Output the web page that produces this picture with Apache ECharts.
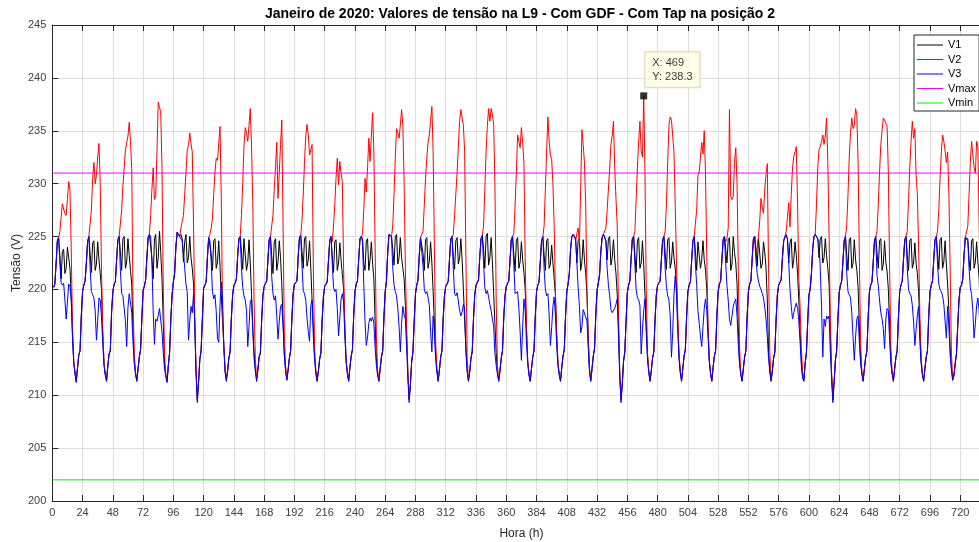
<!DOCTYPE html>
<html><head><meta charset="utf-8">
<script src="https://cdn.jsdelivr.net/npm/echarts@6/dist/echarts.min.js"></script>
<style>html,body{margin:0;padding:0;background:#fff}#c{width:979px;height:542px}</style>
</head><body><div id="c"></div>
<script>
// ---- DATA (hourly, January 2020, one row per day, hours 1..24) ----
const v1Days = [
[220.2,220.5,222.4,224.6,224.9, 223.2,221.0,223.6,223.8,221.5,222.0,224.0,223.0,222.0,219.5,215.8, 213.1,212.1,211.3,212.6,213.8,214.2,217.5,219.8],
[220.4,220.8,222.5,224.5,225.0, 223.4,221.6,224.4,224.6,221.8,222.4,224.5,222.8,221.5,220.0,216.0, 213.0,212.0,211.4,212.7,213.9,214.2,217.8,219.8],
[220.5,220.7,222.8,224.7,225.0, 223.6,221.8,224.8,225.0,222.0,222.6,224.8,223.2,221.8,220.5,216.2, 213.2,212.1,211.4,212.5,213.6,214.3,217.2,219.9],
[220.3,220.9,223.0,224.9,225.2, 225.3,223.0,221.0,224.8,225.2,222.0,223.0,225.5,223.5,221.0,217.0, 213.0,211.9,211.3,212.8,214.0,217.2,219.5,220.7],
[221.5,224.0,225.4,225.2,225.0, 225.2,224.8,222.6,224.5,225.2,222.5,223.0,225.0,223.0,222.0,220.5, 216.8,212.2,209.6,211.3,213.4,214.2,217.2,220.1],
[220.4,220.7,223.0,224.9,224.8, 223.4,221.8,224.6,224.8,222.0,222.6,224.6,222.2,219.5,217.0,214.8, 212.4,211.5,212.3,213.5,214.1,217.3,219.5,220.4],
[220.6,221.0,223.2,224.8,225.0, 223.6,221.9,224.8,224.9,221.8,222.5,224.7,222.5,219.5,216.5,214.0, 212.5,211.5,212.4,213.6,214.0,217.0,219.4,220.3],
[220.4,220.8,222.8,224.7,225.0, 223.2,221.5,224.5,224.8,221.8,222.6,224.6,223.0,220.5,217.0,213.9, 212.4,211.5,212.4,213.5,214.2,217.3,219.6,220.5],
[220.5,220.8,223.1,224.9,225.1, 223.6,222.0,224.8,225.0,222.2,222.8,224.6,222.0,219.0,216.5,213.6, 212.2,211.4,212.3,213.4,214.0,217.1,219.3,220.3],
[220.4,220.7,222.7,224.6,225.0, 223.2,221.6,224.5,224.7,221.8,222.5,224.4,222.8,221.4,220.0,216.3, 213.3,212.1,211.4,212.6,213.7,214.3,217.5,219.8],
[220.5,220.8,222.9,224.8,225.0, 224.8,222.5,221.8,224.6,224.8,221.8,222.8,224.5,222.5,221.0,217.0, 213.5,212.1,211.4,212.5,213.6,214.2,217.4,219.8],
[220.8,223.5,225.2,225.3,225.0, 223.8,222.3,225.0,225.2,222.4,223.0,224.9,223.0,222.0,221.0,218.5, 215.5,212.0,209.6,211.1,213.2,214.1,217.0,219.6],
[220.4,220.9,223.2,224.9,225.0, 223.4,221.8,224.7,224.9,222.0,222.7,224.5,222.5,219.8,216.8,214.0, 212.3,211.4,212.4,213.6,214.2,217.3,219.4,220.3],
[220.5,220.8,222.9,224.8,225.0, 223.1,221.9,224.6,224.9,222.4,223.0,224.8,222.8,220.0,217.0,214.5, 212.4,211.4,212.2,213.5,214.1,217.2,219.5,220.4],
[220.5,220.9,223.1,224.8,225.1, 223.8,222.0,225.0,225.3,222.3,223.0,224.9,222.6,219.6,216.8,214.0, 212.2,211.4,212.3,213.5,214.2,217.3,219.4,220.3],
[220.4,220.8,222.8,224.7,225.0, 223.4,221.7,224.6,224.9,222.0,222.6,224.5,222.8,221.6,220.0,216.4, 213.2,212.0,211.4,212.5,213.6,214.2,217.4,219.8],
[220.4,220.7,222.7,224.6,225.0, 223.3,221.8,224.6,224.8,222.0,222.4,224.2,222.5,221.0,219.5,215.8, 213.0,212.0,211.4,212.6,213.7,214.3,217.5,219.8],
[220.5,221.5,223.8,225.0,225.2, 225.1,224.8,222.5,224.6,224.8,221.8,222.6,224.7,222.8,221.5,219.5, 215.8,212.5,211.4,212.5,213.7,214.4,217.6,219.9],
[220.6,221.4,223.6,224.9,225.2, 225.1,224.6,222.8,224.8,225.0,222.3,223.0,224.7,222.8,221.5,219.5, 216.5,212.0,209.6,211.1,213.2,214.1,217.0,219.7],
[220.4,220.8,222.9,224.8,225.0, 223.3,221.6,224.6,224.9,222.0,222.5,224.6,222.3,219.5,216.5,213.8, 212.3,211.4,212.3,213.5,214.1,217.2,219.5,220.4],
[220.4,220.8,222.8,224.7,225.0, 223.5,221.9,224.7,224.9,222.0,222.6,224.5,223.0,222.0,220.5,216.8, 213.6,212.2,211.4,212.5,213.7,214.3,217.4,219.8],
[220.4,220.7,222.7,224.6,225.0, 223.6,221.8,224.5,224.6,222.0,222.8,224.6,222.8,221.8,220.0,216.5, 213.3,212.1,211.4,212.6,213.7,214.2,217.4,219.8],
[220.5,220.8,222.8,224.7,225.0, 223.8,222.5,224.7,224.9,221.8,222.4,225.0,223.5,222.5,220.5,216.5, 213.2,212.0,211.4,212.5,213.6,214.2,217.4,219.8],
[220.5,220.8,222.9,224.8,225.0, 223.8,222.2,224.8,224.9,222.0,222.4,224.5,223.5,222.0,219.0,214.2, 212.3,211.4,212.3,213.5,214.1,217.2,219.5,220.4],
[220.4,220.9,223.0,224.6,225.0, 225.2,224.8,222.5,224.4,224.8,222.0,222.8,224.5,223.2,221.5,219.0, 216.0,213.2,211.8,211.4,213.0,214.0,216.8,219.5],
[220.0,221.5,223.8,225.0,225.2, 225.1,224.8,223.0,224.8,225.0,222.5,223.0,224.8,223.2,222.0,220.5, 216.0,212.0,209.6,211.3,213.3,214.2,217.2,219.7],
[220.4,220.8,222.7,224.6,225.0, 223.3,221.8,224.7,224.9,222.0,222.5,224.7,222.8,221.8,220.2,216.5, 213.2,212.1,211.4,212.5,213.6,214.2,217.4,219.8],
[220.4,220.7,222.6,224.6,225.0, 223.5,222.0,224.6,224.8,221.8,222.4,224.6,222.6,221.7,220.0,216.6, 213.2,212.1,211.4,212.5,213.6,214.2,217.4,219.8],
[220.4,220.8,222.8,224.7,225.0, 223.3,221.8,224.6,224.8,222.0,222.5,224.4,222.5,221.5,219.8,216.3, 213.2,212.0,211.4,212.5,213.6,214.2,217.4,219.8],
[220.4,220.8,222.8,224.7,225.0, 223.5,221.9,224.7,224.9,222.0,222.6,224.6,222.4,220.5,218.0,214.5, 212.6,211.5,211.9,213.0,213.9,216.5,219.0,220.2],
[220.4,221.0,223.2,224.9,225.0, 224.8,222.8,221.8,224.6,224.8,222.0,222.6,224.5,222.6,221.0,217.0, 213.2,212.0,211.4,212.5,213.6,214.2,217.4,219.8]
];
const v2Days = [
[220.2,220.5,222.4,224.6,224.9, 225.5,226.8,228.1,227.6,227.2,227.0,228.5,230.2,229.4,224.0,216.5, 213.3,212.2,211.4,212.6,213.8,214.2,217.5,219.8],
[220.4,220.8,222.5,224.5,225.0, 225.0,227.5,230.5,232.0,230.0,230.8,232.5,233.8,230.0,222.0,216.0, 213.1,212.0,211.4,212.7,213.9,214.2,217.8,219.8],
[220.5,220.7,222.8,224.7,225.0, 225.0,227.5,229.8,231.5,233.2,233.9,234.5,235.8,234.0,231.4,219.0, 214.0,212.2,211.4,212.5,213.6,214.3,217.2,219.9],
[220.3,220.9,223.0,224.9,225.2, 227.0,229.5,231.5,228.5,228.8,233.0,237.7,237.2,236.8,231.4,220.0, 214.0,212.0,211.3,212.8,214.0,217.2,219.5,220.7],
[221.5,224.0,225.4,225.2,225.0, 225.8,226.4,227.0,229.0,231.0,233.2,233.6,234.8,233.8,233.0,226.0, 217.5,212.5,209.6,211.3,213.4,214.2,217.2,220.1],
[220.4,220.7,223.0,224.9,225.2, 225.8,226.7,229.0,231.1,232.4,232.2,232.1,235.4,228.6,218.0,214.5, 212.4,211.5,212.3,213.5,214.1,217.3,219.5,220.4],
[220.6,221.0,223.2,224.8,225.0, 227.0,230.0,233.5,235.3,234.8,234.0,235.5,237.1,233.5,228.0,219.0, 213.5,211.5,212.4,213.6,214.0,217.0,219.4,220.3],
[220.4,220.8,222.8,224.7,225.0, 225.0,227.0,229.5,231.5,233.9,228.6,231.0,233.7,236.0,226.0,216.0, 212.8,211.5,212.4,213.5,214.2,217.3,219.6,220.5],
[220.5,220.8,223.1,224.9,225.1, 226.5,229.0,232.0,234.5,235.6,234.6,232.7,233.2,233.7,222.0,214.5, 212.3,211.4,212.3,213.4,214.0,217.1,219.3,220.3],
[220.4,220.7,222.7,224.6,225.0, 224.5,226.0,228.0,230.5,232.4,229.9,232.1,231.0,230.2,222.0,216.5, 213.3,212.1,211.4,212.6,213.7,214.3,217.5,219.8],
[220.5,220.8,222.9,224.8,225.0, 225.2,227.5,230.5,229.2,231.5,234.3,232.1,234.5,236.7,233.0,224.0, 215.5,212.3,211.4,212.5,213.6,214.2,217.4,219.8],
[220.8,223.5,225.2,225.3,225.0, 226.0,229.0,232.5,235.2,234.8,234.3,235.5,237.0,235.5,230.0,222.0, 216.5,212.0,209.6,211.1,213.2,214.1,217.0,219.6],
[220.4,220.9,223.2,224.9,225.0, 225.5,228.0,230.5,232.5,233.9,234.6,236.0,237.3,233.0,224.0,215.0, 212.5,211.4,212.4,213.6,214.2,217.3,219.4,220.3],
[220.5,220.8,222.9,224.8,225.0, 225.2,227.0,229.0,231.0,233.5,235.9,237.0,236.2,235.5,233.0,223.0, 213.5,211.4,212.2,213.5,214.1,217.2,219.5,220.4],
[220.5,220.9,223.1,224.8,225.1, 226.0,229.5,233.0,235.5,237.1,235.9,237.1,236.5,235.6,230.0,219.0, 212.8,211.4,212.3,213.5,214.2,217.3,219.4,220.3],
[220.4,220.8,222.8,224.7,225.0, 225.3,228.0,231.0,234.6,234.0,233.4,235.3,233.9,232.0,223.0,216.5, 213.3,212.0,211.4,212.5,213.6,214.2,217.4,219.8],
[220.4,220.7,222.7,224.6,225.0, 226.0,229.5,233.0,236.3,234.0,232.7,232.3,230.0,226.0,219.5,215.5, 213.0,212.0,211.4,212.6,213.7,214.3,217.5,219.8],
[220.5,221.5,223.8,225.0,225.2, 225.0,224.6,225.3,225.8,224.3,229.5,235.1,233.7,232.0,228.0,220.0, 215.0,212.4,211.4,212.5,213.7,214.4,217.6,219.9],
[220.6,221.4,223.6,224.9,225.2, 225.2,225.8,227.5,229.5,231.4,233.7,234.5,235.9,231.5,228.6,226.0, 218.0,212.0,209.6,211.1,213.2,214.1,217.0,219.7],
[220.4,220.8,222.9,224.8,225.0, 225.5,228.5,231.5,234.0,235.9,233.1,232.5,238.3,231.0,220.0,214.0, 212.3,211.4,212.3,213.5,214.1,217.2,219.5,220.4],
[220.4,220.8,222.8,224.7,225.0, 225.5,228.0,232.0,235.5,236.3,236.0,235.9,233.0,228.0,222.5,217.5, 214.0,212.3,211.4,212.5,213.7,214.3,217.4,219.8],
[220.4,220.7,222.7,224.6,225.0, 225.0,227.5,230.8,231.1,232.5,233.9,232.8,235.0,231.0,223.0,216.5, 213.3,212.1,211.4,212.6,213.7,214.2,217.4,219.8],
[220.5,220.8,222.8,224.7,225.0, 224.5,224.8,225.8,237.0,228.8,228.5,228.8,232.1,233.4,230.0,222.0, 214.5,212.0,211.4,212.5,213.6,214.2,217.4,219.8],
[220.5,220.8,222.9,224.8,225.0, 223.5,224.0,225.0,226.5,228.6,227.8,227.2,229.5,230.9,231.9,222.0, 214.0,211.5,212.3,213.5,214.1,217.2,219.5,220.4],
[220.4,220.9,223.0,224.6,225.0, 225.5,226.8,228.2,225.9,229.0,231.5,232.6,233.0,233.5,228.0,221.0, 218.4,214.5,212.2,211.5,213.0,214.0,216.8,219.5],
[220.0,221.5,223.8,225.0,225.2, 228.0,231.5,233.2,233.5,234.0,234.6,233.7,234.5,236.2,232.0,225.0, 217.0,212.0,209.6,211.3,213.3,214.2,217.2,219.7],
[220.4,220.8,222.7,224.6,225.0, 226.0,229.0,232.5,234.8,236.2,235.2,235.5,237.1,236.5,232.0,223.0, 215.0,212.2,211.4,212.5,213.6,214.2,217.4,219.8],
[220.4,220.7,222.6,224.6,225.0, 225.5,228.0,231.0,233.7,235.0,236.2,236.0,235.9,235.4,231.0,222.0, 214.5,212.2,211.4,212.5,213.6,214.2,217.4,219.8],
[220.4,220.8,222.8,224.7,225.0, 225.5,228.5,231.5,234.0,235.9,234.3,235.2,230.8,229.0,224.0,217.5, 213.5,212.0,211.4,212.5,213.6,214.2,217.4,219.8],
[220.4,220.8,222.8,224.7,225.0, 225.5,227.5,230.5,233.0,234.6,234.0,233.1,232.0,233.0,229.0,222.0, 214.0,211.6,211.9,213.0,213.9,216.5,219.0,220.2],
[220.4,221.0,223.2,224.9,225.0, 226.0,229.0,232.0,234.0,234.0,231.5,231.0,234.0,233.5,226.0,218.0, 213.5,212.0,211.4,212.5,213.6,214.2,217.4,219.8]
];
const v3Days = [
[220.2,220.5,222.4,224.6,224.9,222.5,220.6,220.4,220.6,219.0,217.2,218.8,220.5,220.3,219.0,215.5,213.0,212.0,211.2,212.6,213.8,214.2,217.5,219.8],
[220.4,220.8,222.5,224.5,225.0,222.0,219.8,219.5,219.2,218.0,215.2,217.0,219.2,219.0,217.5,214.8,212.8,211.9,211.3,212.7,213.9,214.2,217.8,219.8],
[220.5,220.7,222.8,224.7,225.0,221.8,219.6,219.4,218.2,217.0,214.6,218.3,219.6,219.5,217.8,215.0,213.0,212.0,211.3,212.5,213.6,214.3,217.2,219.9],
[220.3,220.9,223.0,224.9,225.2,225.0,222.5,218.0,214.8,217.2,217.0,217.5,218.2,218.2,216.0,214.0,212.5,211.8,211.2,212.8,214.0,217.2,219.5,220.7],
[221.5,224.0,225.4,225.2,225.0,225.0,224.6,223.5,222.0,220.5,219.8,215.2,217.0,218.4,217.8,219.6,216.5,212.0,209.3,211.2,213.4,214.2,217.2,220.1],
[220.4,220.7,223.0,224.9,224.6,222.6,219.8,219.1,219.5,217.9,215.4,215.0,218.5,220.7,219.1,214.7,212.2,211.3,212.2,213.5,214.1,217.3,219.5,220.4],
[220.6,221.0,223.2,224.8,225.0,222.0,220.2,219.4,219.0,218.0,214.6,216.5,218.8,219.1,216.0,213.5,212.3,211.3,212.3,213.6,214.0,217.0,219.4,220.3],
[220.4,220.8,222.8,224.7,225.0,221.2,219.6,219.0,219.4,217.5,215.3,217.0,218.4,218.6,216.5,213.8,212.2,211.4,212.4,213.5,214.2,217.3,219.6,220.5],
[220.5,220.8,223.1,224.9,225.1,222.3,219.9,219.6,219.0,217.3,216.0,215.1,218.5,219.0,215.5,213.4,212.0,211.3,212.3,213.4,214.0,217.1,219.3,220.3],
[220.4,220.7,222.7,224.6,225.0,222.5,220.2,219.8,220.0,218.2,215.6,217.3,219.1,219.6,218.8,215.6,213.1,212.0,211.3,212.6,213.7,214.3,217.5,219.8],
[220.5,220.8,222.9,224.8,225.0,224.5,220.5,217.0,214.7,215.5,216.8,217.3,217.0,217.4,216.8,214.5,212.8,211.8,211.3,212.5,213.6,214.2,217.4,219.8],
[220.8,223.5,225.2,225.3,225.0,222.0,220.4,219.8,219.4,218.2,216.5,214.1,216.8,218.4,217.6,217.2,214.5,211.5,209.3,211.0,213.2,214.1,217.0,219.6],
[220.4,220.9,223.2,224.9,225.0,222.2,220.0,219.6,219.8,219.2,218.5,216.0,214.1,217.5,216.0,213.4,212.2,211.3,212.4,213.6,214.2,217.3,219.4,220.3],
[220.5,220.8,222.9,224.8,225.0,222.0,219.6,219.4,219.7,218.9,218.0,217.5,217.9,218.6,218.2,214.0,212.2,211.3,212.2,213.5,214.1,217.2,219.5,220.4],
[220.5,220.9,223.1,224.8,225.1,222.4,220.2,219.6,219.9,219.3,218.6,218.0,217.2,216.5,214.0,212.8,212.0,211.3,212.3,213.5,214.2,217.3,219.4,220.3],
[220.4,220.8,222.8,224.7,225.0,222.3,219.6,219.5,219.8,218.2,216.0,213.3,216.5,219.1,218.0,215.0,213.0,211.9,211.3,212.5,213.6,214.2,217.4,219.8],
[220.4,220.7,222.7,224.6,225.0,222.0,220.0,219.4,219.6,217.6,214.7,216.4,218.4,219.3,217.5,214.6,212.8,211.9,211.3,212.6,213.7,214.3,217.5,219.8],
[220.5,221.5,223.8,225.0,225.2,225.0,224.8,222.5,220.2,218.4,215.9,216.5,218.1,218.0,217.4,217.0,214.5,212.2,211.3,212.5,213.7,214.4,217.6,219.9],
[220.6,221.4,223.6,224.9,225.2,225.0,224.6,222.0,220.4,219.4,218.1,217.8,217.9,218.2,218.6,219.1,215.5,211.8,209.3,211.0,213.2,214.1,217.0,219.7],
[220.4,220.8,222.9,224.8,225.0,222.3,220.0,219.2,219.0,218.5,213.9,216.2,218.0,219.1,216.0,213.4,212.1,211.3,212.3,213.5,214.1,217.2,219.5,220.4],
[220.4,220.8,222.8,224.7,225.0,222.0,220.3,219.4,219.0,217.5,213.6,216.0,219.5,221.3,219.5,216.0,213.5,212.1,211.3,212.5,213.7,214.3,217.4,219.8],
[220.4,220.7,222.7,224.6,225.0,222.4,220.4,218.0,216.8,215.6,214.6,216.5,218.2,219.1,218.0,215.5,213.2,212.0,211.3,212.6,213.7,214.2,217.4,219.8],
[220.5,220.8,222.8,224.7,225.0,222.5,220.4,219.0,217.2,216.6,217.5,218.4,218.8,219.1,217.5,214.8,212.9,211.9,211.3,212.5,213.6,214.2,217.4,219.8],
[220.5,220.8,222.9,224.8,225.0,222.8,221.5,220.8,220.3,220.0,219.6,219.2,218.3,217.2,215.5,213.5,212.2,211.3,212.3,213.5,214.1,217.2,219.5,220.4],
[220.4,220.9,223.0,224.6,225.0,225.1,224.8,222.5,220.0,218.4,217.2,217.8,218.3,218.7,218.2,217.0,215.0,212.8,211.6,211.3,213.0,214.0,216.8,219.5],
[220.0,221.5,223.8,225.0,225.2,225.0,224.9,224.5,222.0,218.4,213.6,217.2,216.5,217.5,217.2,217.5,214.0,211.5,209.3,211.2,213.3,214.2,217.2,219.7],
[220.4,220.8,222.7,224.6,225.0,221.5,219.8,219.5,219.2,217.8,215.5,213.3,215.5,217.2,217.5,215.0,213.0,212.0,211.3,212.5,213.6,214.2,217.4,219.8],
[220.4,220.7,222.6,224.6,225.0,221.3,220.4,219.0,217.8,217.2,216.3,214.4,217.2,218.2,218.0,215.2,213.0,212.0,211.3,212.5,213.6,214.2,217.4,219.8],
[220.4,220.8,222.8,224.7,225.0,222.0,220.0,219.6,219.4,218.5,217.0,214.7,216.2,217.6,218.4,215.0,213.0,211.9,211.3,212.5,213.6,214.2,217.4,219.8],
[220.4,220.8,222.8,224.7,225.0,222.4,220.5,220.0,219.8,219.4,218.6,217.0,215.4,218.4,216.5,213.8,212.4,211.4,211.8,213.0,213.9,216.5,219.0,220.2],
[220.4,221.0,223.2,224.9,225.0,224.6,222.0,220.2,219.5,218.0,215.4,216.8,218.5,219.2,218.0,215.2,213.0,211.9,211.3,212.5,213.6,214.2,217.4,219.8]
];
const seriesNames = ['V1', 'V2', 'V3', 'Vmax', 'Vmin'];
const vmaxLevel = [231];
const vminLevel = [202];
const xRange = [0, 744];      // hours
const xStep = [24];
const yRange = [200, 245];    // volts
const yStep = [5];
const tipHour = [469];
const titleText = 'Janeiro de 2020: Valores de tensão na L9 - Com GDF - Com Tap na posição 2';

// ---- build ----
const flat = rows => [].concat(...rows);
const v1 = flat(v1Days), v2 = flat(v2Days), v3 = flat(v3Days);
const toXY = arr => arr.map((v, i) => [i + 1, v]);
const tipX = tipHour[0];
const tipY = v2[tipX - 1];
const font = "'Liberation Sans', Arial, Helvetica, sans-serif";
const axisColor = '#262626';

const chart = echarts.init(document.getElementById('c'), null, {renderer: 'canvas'});
const lineSeries = (name, data, color) => ({
  type: 'line', name, data, symbol: 'none', showSymbol: false,
  lineStyle: {width: 1, color}, itemStyle: {color}, emphasis: {disabled: true},
  silent: true, z: 2
});
const levelLine = (name, level, color) => lineSeries(name, [[xRange[0], level], [xRange[1], level]], color);

chart.setOption({
  animation: false,
  textStyle: {fontFamily: font},
  title: {
    text: titleText, left: 515, top: 2, textAlign: 'center',
    textStyle: {fontFamily: font, fontSize: 14, fontWeight: 'bold', color: '#000'}
  },
  grid: {left: 52.3, right: -11.5, top: 25, bottom: 41, containLabel: false, outerBoundsMode: 'none'},
  legend: {
    data: seriesNames, orient: 'vertical', left: 914, top: 35,
    padding: [4, 3, 2, 3], itemGap: 2.5, itemWidth: 26, itemHeight: 1, icon: 'rect',
    backgroundColor: '#fff', borderColor: axisColor, borderWidth: 1, borderRadius: 0,
    textStyle: {fontFamily: font, fontSize: 11, color: '#000', lineHeight: 12},
    selectedMode: false
  },
  xAxis: [{
    type: 'value', min: xRange[0], max: xRange[1], interval: xStep[0], position: 'bottom',
    name: 'Hora (h)', nameLocation: 'middle', nameGap: 27, nameMoveOverlap: false,
    nameTextStyle: {fontFamily: font, fontSize: 12, color: axisColor},
    axisLine: {show: true, onZero: false, lineStyle: {color: axisColor, width: 1}},
    axisTick: {show: true, inside: true, length: 6, lineStyle: {color: axisColor}},
    axisLabel: {fontFamily: font, fontSize: 11, color: '#404040', margin: 6, showMaxLabel: true},
    splitLine: {show: true, lineStyle: {color: '#dedede', width: 1}}
  }, {
    type: 'value', min: xRange[0], max: xRange[1], interval: xStep[0], position: 'top',
    axisLine: {show: true, onZero: false, lineStyle: {color: axisColor, width: 1}},
    axisTick: {show: true, inside: true, length: 6, lineStyle: {color: axisColor}},
    axisLabel: {show: false}, splitLine: {show: false}
  }],
  yAxis: {
    type: 'value', min: yRange[0], max: yRange[1], interval: yStep[0],
    name: 'Tensão (V)', nameLocation: 'middle', nameGap: 30, nameRotate: 90, nameMoveOverlap: false,
    nameTextStyle: {fontFamily: font, fontSize: 12, color: axisColor},
    axisLine: {show: true, onZero: false, lineStyle: {color: axisColor, width: 1}},
    axisTick: {show: true, inside: true, length: 6, lineStyle: {color: axisColor}},
    axisLabel: {fontFamily: font, fontSize: 11, color: '#404040', margin: 6},
    splitLine: {show: true, lineStyle: {color: '#dedede', width: 1}}
  },
  series: [
    lineSeries('V1', toXY(v1), '#000000'),
    lineSeries('V2', toXY(v2), '#ff0000'),
    lineSeries('V3', toXY(v3), '#0000ff'),
    levelLine('Vmax', vmaxLevel[0], '#ff00ff'),
    levelLine('Vmin', vminLevel[0], '#00ee00'),
    {
      type: 'scatter', name: 'datatip', data: [[tipX, tipY]],
      symbol: 'rect', symbolSize: 7, itemStyle: {color: '#000'}, z: 10, silent: true,
      label: {
        show: true, position: [5, -40], align: 'left', verticalAlign: 'top',
        formatter: 'X: ' + tipX + '\nY: ' + tipY.toFixed(1),
        fontFamily: font, fontSize: 11, lineHeight: 14, color: '#000',
        backgroundColor: '#ffffe1', borderColor: '#cfcfb0', borderWidth: 1,
        padding: [4, 7, 3, 7]
      }
    }
  ]
});
</script>
</body></html>
